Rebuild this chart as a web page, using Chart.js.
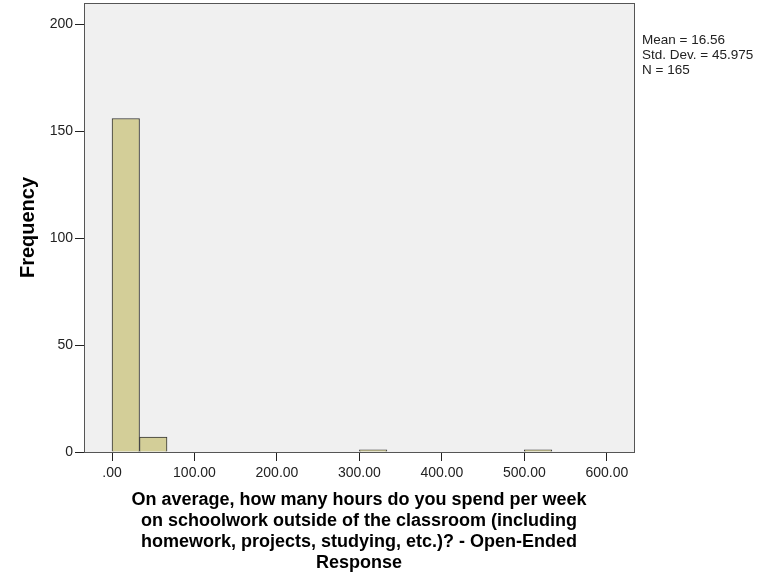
<!DOCTYPE html>
<html>
<head>
<meta charset="utf-8">
<script src="https://cdn.jsdelivr.net/npm/chart.js@4/dist/chart.umd.min.js"></script>
<style>
  html, body { margin: 0; padding: 0; background: #fff; }
  #wrap { width: 777px; height: 574px; }
</style>
</head>
<body>
<div id="wrap"><canvas id="hist_canvas" width="777" height="574"></canvas></div>
<script>
// histogram bins (bin width 33.33), only the non-empty ones
const binCenters = [16.67, 50, 316.67, 516.67];
const binCounts = [156, 7, 1, 1];
const xTicks = [0, 100, 200, 300, 400, 500, 600];
const yTicks = [0, 50, 100, 150, 200];
const statLines = ['Mean = 16.56', 'Std. Dev. = 45.975', 'N = 165'];
const xTitle = [
  'On average, how many hours do you spend per week',
  'on schoolwork outside of the classroom (including',
  'homework, projects, studying, etc.)? - Open-Ended',
  'Response'
];

const ctx = document.getElementById('hist_canvas');

const plotFrame = {
  id: 'plotFrame',
  beforeDraw(chart) {
    const c = chart.ctx, a = chart.chartArea;
    c.save();
    c.fillStyle = '#f0f0f0';
    c.fillRect(a.left, a.top, a.right - a.left, a.bottom - a.top);
    c.restore();
  },
  afterDraw(chart) {
    const c = chart.ctx, a = chart.chartArea;
    c.save();
    c.strokeStyle = '#555';
    c.lineWidth = 1;
    c.strokeRect(a.left + 0.5, a.top + 0.5, a.right - a.left, a.bottom - a.top);
    c.fillStyle = '#222';
    c.font = '13.5px "Liberation Sans", Arial, sans-serif';
    c.textBaseline = 'middle';
    statLines.forEach((s, i) => c.fillText(s, a.right + 8, 40 + i * 15));
    c.restore();
  }
};

const data = {
  datasets: [{
    data: binCenters.map((x, i) => ({x: x, y: binCounts[i]})),
    backgroundColor: 'rgb(211, 206, 152)',
    borderColor: '#333',
    borderWidth: 1,
    barPercentage: 1,
    categoryPercentage: 1
  }]
};

const tickFont = {family: '"Liberation Sans", Arial, sans-serif', size: 14};
const titleFont = {family: '"Liberation Sans", Arial, sans-serif', size: 18, weight: 'bold', lineHeight: 1.17};

const config = {
  type: 'bar',
  data: data,
  plugins: [plotFrame],
  options: {
    responsive: false,
    animation: false,
    layout: {padding: {left: 0, right: 143, top: 3, bottom: 0}},
    plugins: {legend: {display: false}, tooltip: {enabled: false}},
    scales: {
      x: {
        type: 'linear',
        offset: false,
        min: -34,
        max: 633,
        afterBuildTicks: axis => { axis.ticks = xTicks.map(v => ({value: v})); },
        afterFit: axis => { axis.height = 122; axis.paddingLeft = 0; axis.paddingRight = 0; },
        grid: {display: true, offset: false, drawOnChartArea: false, drawTicks: true, tickLength: 9, color: '#222'},
        border: {display: true, color: '#222'},
        ticks: {
          color: '#222',
          font: tickFont,
          padding: 4,
          maxRotation: 0,
          callback: v => v === 0 ? '.00' : v.toFixed(2)
        },
        title: {display: true, text: xTitle, color: '#000', font: titleFont, padding: {top: 0, bottom: 0}}
      },
      y: {
        min: 0,
        max: 210,
        afterBuildTicks: axis => { axis.ticks = yTicks.map(v => ({value: v})); },
        afterFit: axis => { axis.width = 84; axis.paddingTop = 0; axis.paddingBottom = 0; },
        grid: {display: true, drawOnChartArea: false, drawTicks: true, tickLength: 9, color: '#222'},
        border: {display: true, color: '#222'},
        ticks: {color: '#222', font: tickFont, padding: 2},
        title: {display: true, text: 'Frequency', color: '#000', font: {family: '"Liberation Sans", Arial, sans-serif', size: 20, weight: 'bold', lineHeight: 1.2}, padding: {top: 16, bottom: 0}}
      }
    }
  }
};

var histChart = new Chart(ctx, config);
</script>
</body>
</html>
